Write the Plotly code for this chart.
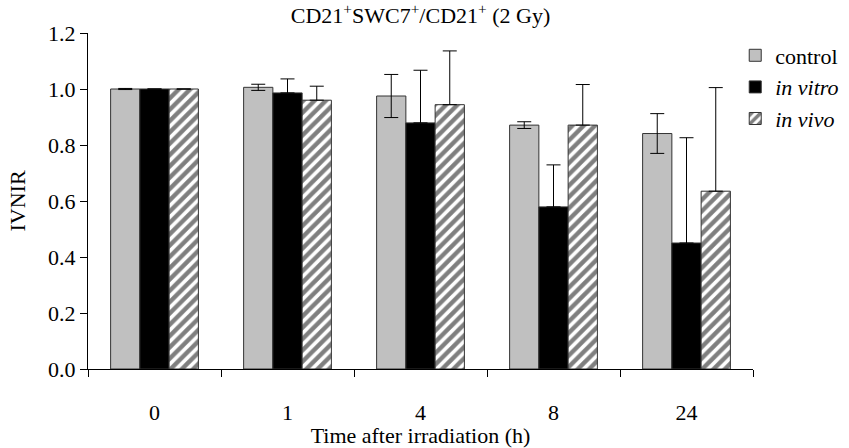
import plotly.graph_objects as go

times = ["0", "1", "4", "8", "24"]

control = [1.0, 1.006, 0.975, 0.871, 0.841]
control_err = [0.002, 0.011, 0.077, 0.012, 0.071]

in_vitro = [1.0, 0.986, 0.879, 0.579, 0.45]
in_vitro_err = [0.0, 0.05, 0.188, 0.15, 0.376]

in_vivo = [1.0, 0.96, 0.944, 0.871, 0.635]
in_vivo_err = [0.0, 0.05, 0.192, 0.145, 0.37]

FONT = "Liberation Serif"
SIZE = 22
f = dict(family=FONT, size=SIZE, color="black")
outline = dict(color="#333333", width=1)

fig = go.Figure()

fig.add_trace(go.Bar(
    x=times, y=control, name="control",
    marker=dict(color="#c0c0c0", line=outline),
    error_y=dict(type="data", array=control_err, symmetric=True,
                 color="black", thickness=1, width=7),
))
fig.add_trace(go.Bar(
    x=times, y=in_vitro, name="<i>in vitro</i>",
    marker=dict(color="black", line=outline),
    error_y=dict(type="data", array=in_vitro_err, arrayminus=[0] * 5,
                 symmetric=False, color="black", thickness=1, width=7),
))
fig.add_trace(go.Bar(
    x=times, y=in_vivo, name="<i>in vivo</i>",
    marker=dict(color="white", line=outline,
                pattern=dict(shape="/", fgcolor="black", bgcolor="white",
                             size=8, solidity=0.55)),
    error_y=dict(type="data", array=in_vivo_err, arrayminus=[0] * 5,
                 symmetric=False, color="black", thickness=1, width=7),
))

fig.update_layout(
    width=849, height=448,
    margin=dict(l=88, r=96, t=33, b=79, autoexpand=False),
    paper_bgcolor="white", plot_bgcolor="white",
    barmode="group", bargap=0.34, bargroupgap=0,
    font=f,
    title=dict(text="CD21<sup>+</sup>SWC7<sup>+</sup>/CD21<sup>+</sup> (2 Gy)",
               xref="paper", x=0.5, xanchor="center",
               yref="container", y=0.982, yanchor="top", font=f),
    legend=dict(xref="container", x=0.866, xanchor="left",
                yref="container", y=0.923, yanchor="top",
                font=f, tracegroupgap=0, itemwidth=30,
                bgcolor="rgba(0,0,0,0)"),
    showlegend=True,
)

fig.update_xaxes(
    type="category", showline=True, linecolor="black", linewidth=1,
    ticks="outside", tickson="boundaries", ticklen=7, tickcolor="black",
    ticklabelstandoff=24, showgrid=False, automargin=False, tickfont=f,
    title=dict(text="Time after irradiation (h)", standoff=0, font=f),
)
fig.update_yaxes(
    range=[0, 1.2], dtick=0.2, tickformat=".1f",
    showline=True, linecolor="black", linewidth=1,
    ticks="outside", ticklen=7, tickcolor="black", showgrid=False,
    zeroline=False, automargin=False, tickfont=f,
    title=dict(text="IVNIR", standoff=16, font=f),
)

# drop the browser's default body margin so the figure sits at (0, 0)
fig.write_html("out.html", config={"displayModeBar": False},
               post_script="document.body.style.margin='0';")
